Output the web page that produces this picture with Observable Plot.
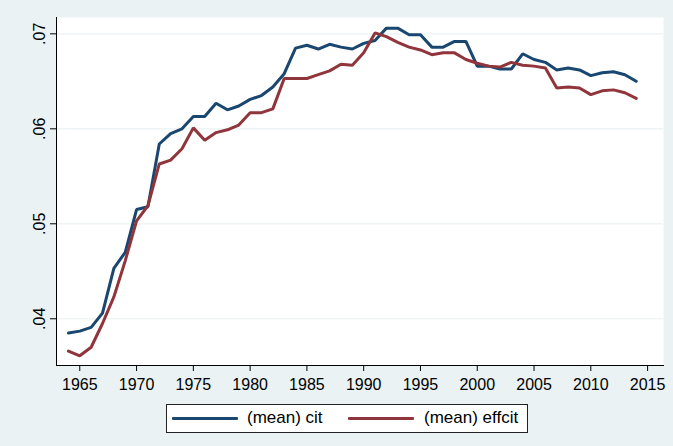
<!DOCTYPE html>
<html><head><meta charset="utf-8">
<script src="https://cdn.jsdelivr.net/npm/d3@7"></script>
<script src="https://cdn.jsdelivr.net/npm/@observablehq/plot@0.6"></script>
<style>
body{margin:0;background:#EAF2F3;font-family:"Liberation Sans",Arial,sans-serif;}
#wrap{position:relative;width:673px;height:446px;overflow:hidden;background:#EAF2F3;}
#chart svg{display:block;}
#legend{position:absolute;left:166px;top:404px;width:360px;height:27px;border:1px solid #222;background:#fff;}
.sw{position:absolute;top:12px;height:3px;width:66px;border-radius:1px;}
.lt{position:absolute;top:3px;font-size:17px;line-height:20px;color:#000;white-space:nowrap;}
</style></head>
<body><div id="wrap"><div id="chart"></div><div id="legend"></div></div>
<script>
const years = [1964,1965,1966,1967,1968,1969,1970,1971,1972,1973,1974,1975,1976,1977,1978,1979,1980,1981,1982,1983,1984,1985,1986,1987,1988,1989,1990,1991,1992,1993,1994,1995,1996,1997,1998,1999,2000,2001,2002,2003,2004,2005,2006,2007,2008,2009,2010,2011,2012,2013,2014];
const cit = [.0385,.0387,.0391,.0406,.0453,.0470,.0515,.0518,.0584,.0595,.0600,.0613,.0613,.0627,.0620,.0624,.0631,.0635,.0644,.0658,.0685,.0688,.0684,.0689,.0686,.0684,.0690,.0693,.0706,.0706,.0699,.0699,.0686,.0686,.0692,.0692,.0666,.0666,.0663,.0663,.0679,.0673,.0670,.0662,.0664,.0662,.0656,.0659,.0660,.0657,.0650];
const effcit = [.0366,.0361,.0370,.0395,.0423,.0461,.0503,.0519,.0563,.0567,.0579,.0601,.0588,.0596,.0599,.0604,.0617,.0617,.0621,.0653,.0653,.0653,.0657,.0661,.0668,.0667,.0680,.0701,.0697,.0691,.0686,.0683,.0678,.0680,.0680,.0673,.0669,.0666,.0665,.0670,.0667,.0666,.0664,.0643,.0644,.0643,.0636,.0640,.0641,.0638,.0632];
const seriesNames = ["(mean) cit", "(mean) effcit"];
const seriesColors = ["#1A476F", "#90353B"];
const xTicks = [1965,1970,1975,1980,1985,1990,1995,2000,2005,2010,2015];
const yTicks = [0.04,0.05,0.06,0.07];

const rows = [];
years.forEach((y,i)=>{
  rows.push({year:y, value:cit[i], series:seriesNames[0]});
  rows.push({year:y, value:effcit[i], series:seriesNames[1]});
});

const chart = Plot.plot({
  width: 673, height: 398,
  marginTop: 17, marginRight: 10, marginBottom: 33, marginLeft: 56,
  style: {background:"transparent", fontFamily:"'Liberation Sans', Arial, sans-serif", fontSize:"16px", color:"#000"},
  x: {domain:[1962.95, 2016.4]},
  y: {domain:[0.03508, 0.07172]},
  color: {domain: seriesNames, range: seriesColors},
  marks: [
    Plot.frame({fill:"white", stroke:null}),
    Plot.gridY(yTicks, {stroke:"#EAF2F3", strokeOpacity:1, strokeWidth:1.2}),
    Plot.line(rows, {x:"year", y:"value", z:"series", stroke:"series", strokeWidth:3, strokeLinejoin:"miter", strokeLinecap:"round"}),
    Plot.frame({anchor:"left", stroke:"#000", strokeWidth:1}),
    Plot.frame({anchor:"bottom", stroke:"#000", strokeWidth:1}),
    Plot.axisY({ticks:yTicks, tickFormat:d=>d3.format(".2f")(d).replace(/^0/,""), tickRotate:-90, tickSize:6, tickPadding:6, label:null, stroke:"#000"}),
    Plot.axisX({ticks:xTicks, tickFormat:d=>String(d), tickSize:6, tickPadding:7, label:null, stroke:"#000"})
  ]
});
document.getElementById("chart").appendChild(chart);

const legend = document.getElementById("legend");
const swX = [5, 181], txX = [80, 257];
seriesNames.forEach((name,i)=>{
  const sw = document.createElement("div");
  sw.className = "sw"; sw.style.left = swX[i]+"px"; sw.style.background = seriesColors[i];
  legend.appendChild(sw);
  const t = document.createElement("div");
  t.className = "lt"; t.style.left = txX[i]+"px"; t.textContent = name;
  legend.appendChild(t);
});
</script></body></html>
